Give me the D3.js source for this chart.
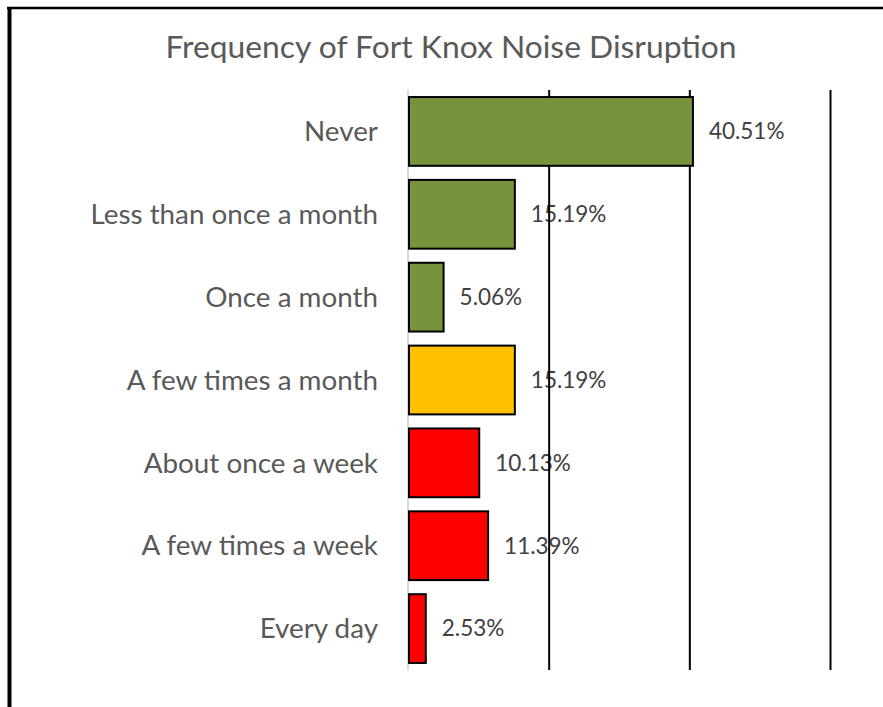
<!DOCTYPE html>
<html>
<head>
<meta charset="utf-8">
<script src="https://cdn.jsdelivr.net/npm/d3@7"></script>
<style>
  html, body { margin: 0; padding: 0; background: #fff; }
  svg { display: block; }
</style>
</head>
<body>
<div id="chart"></div>
<script>
const title = "Frequency of Fort Knox Noise Disruption";
const categories = ["Never", "Less than once a month", "Once a month", "A few times a month", "About once a week", "A few times a week", "Every day"];
const values = [40.51, 15.19, 5.06, 15.19, 10.13, 11.39, 2.53];
const barColors = ["#77933C", "#77933C", "#77933C", "#FFC000", "#FF0000", "#FF0000", "#FF0000"];
const gridTicks = [20, 40, 60];

const W = 883, H = 707;
const FONT = "Lato, 'Open Sans', sans-serif";
const TOP = 90, BOTTOM = 670;

const svg = d3.select("#chart").append("svg").attr("width", W).attr("height", H);

// Outer frame (top and left edges visible)
svg.append("line").attr("x1", 7).attr("x2", W).attr("y1", 8).attr("y2", 8)
  .attr("stroke", "#000").attr("stroke-width", 2.5);
svg.append("line").attr("x1", 9.5).attr("x2", 9.5).attr("y1", 7).attr("y2", H)
  .attr("stroke", "#000").attr("stroke-width", 4);

const x = d3.scaleLinear().domain([0, 60]).range([408, 830]);
const y = d3.scaleBand().domain(categories).range([TOP, BOTTOM]).paddingInner(0.17).paddingOuter(0.085);

// Title
svg.append("text").attr("x", 451).attr("y", 58).attr("text-anchor", "middle")
  .attr("font-family", FONT).attr("font-size", 31.8).attr("fill", "#595959").text(title);

// Category labels
const yAxis = d3.axisLeft(y).tickSize(0).tickPadding(0);
const gy = svg.append("g").attr("transform", "translate(378,0)").call(yAxis);
gy.select(".domain").remove();
gy.selectAll("text").attr("font-family", FONT).attr("font-size", 27.8).attr("fill", "#595959").attr("dy", "0.35em");

// Value labels
svg.append("g").selectAll("text").data(categories).join("text")
  .attr("x", (d, i) => x(values[i]) + 16)
  .attr("y", d => y(d) + y.bandwidth() / 2)
  .attr("dy", "0.35em")
  .attr("font-family", FONT).attr("font-size", 22.5).attr("fill", "#404040")
  .text((d, i) => values[i].toFixed(2) + "%");

// Gridlines
const xAxis = d3.axisTop(x).tickValues(gridTicks).tickSize(-(BOTTOM - TOP)).tickFormat("");
const gx = svg.append("g").attr("transform", `translate(0,${TOP})`).call(xAxis);
gx.select(".domain").remove();
gx.selectAll(".tick line").attr("stroke", "#000").attr("stroke-width", 2);

// Category axis line
svg.append("line").attr("x1", x(0)).attr("x2", x(0)).attr("y1", TOP).attr("y2", BOTTOM)
  .attr("stroke", "#d9d9d9").attr("stroke-width", 2);

// Bars
svg.append("g").selectAll("rect").data(categories).join("rect")
  .attr("x", x(0) + 1)
  .attr("y", d => y(d))
  .attr("width", (d, i) => x(values[i]) - x(0) - 1)
  .attr("height", y.bandwidth())
  .attr("fill", (d, i) => barColors[i])
  .attr("stroke", "#000").attr("stroke-width", 2);
</script>
</body>
</html>
